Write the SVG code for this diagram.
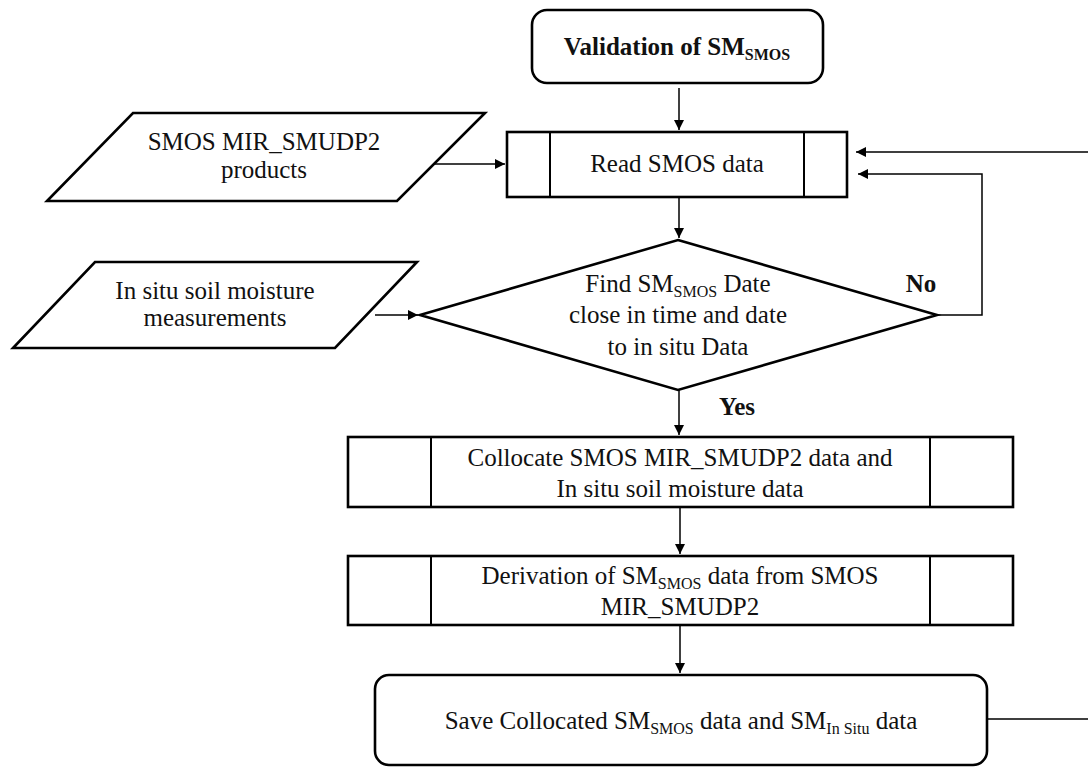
<svg xmlns="http://www.w3.org/2000/svg" width="1088" height="767" viewBox="0 0 1088 767">
<defs>
<marker id="arr" viewBox="0 0 10 10" refX="10" refY="5" markerWidth="10" markerHeight="10" markerUnits="userSpaceOnUse" orient="auto">
<path d="M0,0 L10,5 L0,10 z" fill="#000"/>
</marker>
<style>
.box{fill:#fff;stroke:#000;stroke-width:2.6}
.div{stroke:#000;stroke-width:2}
.con{fill:none;stroke:#000;stroke-width:1.5}
.t{font-family:"Liberation Serif",serif;font-size:25px;fill:#111;text-anchor:middle}
.b{font-weight:bold}
.sub{font-size:16px}
</style>
</defs>
<rect width="1088" height="767" fill="#fff"/>
<g id="connectors">
<path class="con" d="M679,88 V130" marker-end="url(#arr)"/>
<path class="con" d="M679,197 V238" marker-end="url(#arr)"/>
<path class="con" d="M433,164 H505" marker-end="url(#arr)"/>
<path class="con" d="M375,315 H418" marker-end="url(#arr)"/>
<path class="con" d="M937,315 H982 V174 H858" marker-end="url(#arr)"/>
<path class="con" d="M679,390 V435" marker-end="url(#arr)"/>
<path class="con" d="M680,507 V554" marker-end="url(#arr)"/>
<path class="con" d="M680,625 V673" marker-end="url(#arr)"/>
<path class="con" d="M987,719 H1100 V152 H856" marker-end="url(#arr)"/>
<text class="t b" x="921" y="292">No</text>
<text class="t b" x="737" y="415">Yes</text>
</g>
<g id="validation">
<rect class="box" x="532" y="10" width="291" height="73" rx="15"/>
<text class="t b" x="677" y="55">Validation of SM<tspan class="sub" dy="5">SMOS</tspan></text>
</g>
<g id="read">
<rect class="box" x="507" y="132" width="340" height="65"/>
<line class="div" x1="550" y1="132" x2="550" y2="197"/>
<line class="div" x1="804" y1="132" x2="804" y2="197"/>
<text class="t" x="677" y="172">Read SMOS data</text>
</g>
<g id="smos-products">
<polygon class="box" points="133,113 485,113 397,201 47,201"/>
<text class="t" x="264" y="150">SMOS MIR_SMUDP2</text>
<text class="t" x="264" y="178">products</text>
</g>
<g id="insitu">
<polygon class="box" points="95,262 417,262 335,348 13,348"/>
<text class="t" x="215" y="299">In situ soil moisture</text>
<text class="t" x="215" y="326">measurements</text>
</g>
<g id="decision">
<polygon class="box" points="678,240 937,315 678,390 420,315"/>
<text class="t" x="678" y="292">Find SM<tspan class="sub" dy="5">SMOS</tspan><tspan dy="-5"> Date</tspan></text>
<text class="t" x="678" y="323">close in time and date</text>
<text class="t" x="678" y="355">to in situ Data</text>
</g>
<g id="collocate">
<rect class="box" x="348" y="437" width="665" height="70"/>
<line class="div" x1="431" y1="437" x2="431" y2="507"/>
<line class="div" x1="930" y1="437" x2="930" y2="507"/>
<text class="t" x="680" y="466">Collocate SMOS MIR_SMUDP2 data and</text>
<text class="t" x="680" y="497">In situ soil moisture data</text>
</g>
<g id="derivation">
<rect class="box" x="348" y="556" width="665" height="69"/>
<line class="div" x1="431" y1="556" x2="431" y2="625"/>
<line class="div" x1="930" y1="556" x2="930" y2="625"/>
<text class="t" x="680" y="584">Derivation of SM<tspan class="sub" dy="5">SMOS</tspan><tspan dy="-5"> data from SMOS</tspan></text>
<text class="t" x="680" y="615">MIR_SMUDP2</text>
</g>
<g id="save">
<rect class="box" x="375" y="675" width="612" height="90" rx="14"/>
<text class="t" x="681" y="729">Save Collocated SM<tspan class="sub" dy="5">SMOS</tspan><tspan dy="-5"> data and SM</tspan><tspan class="sub" dy="5">In Situ</tspan><tspan dy="-5"> data</tspan></text>
</g>
</svg>
